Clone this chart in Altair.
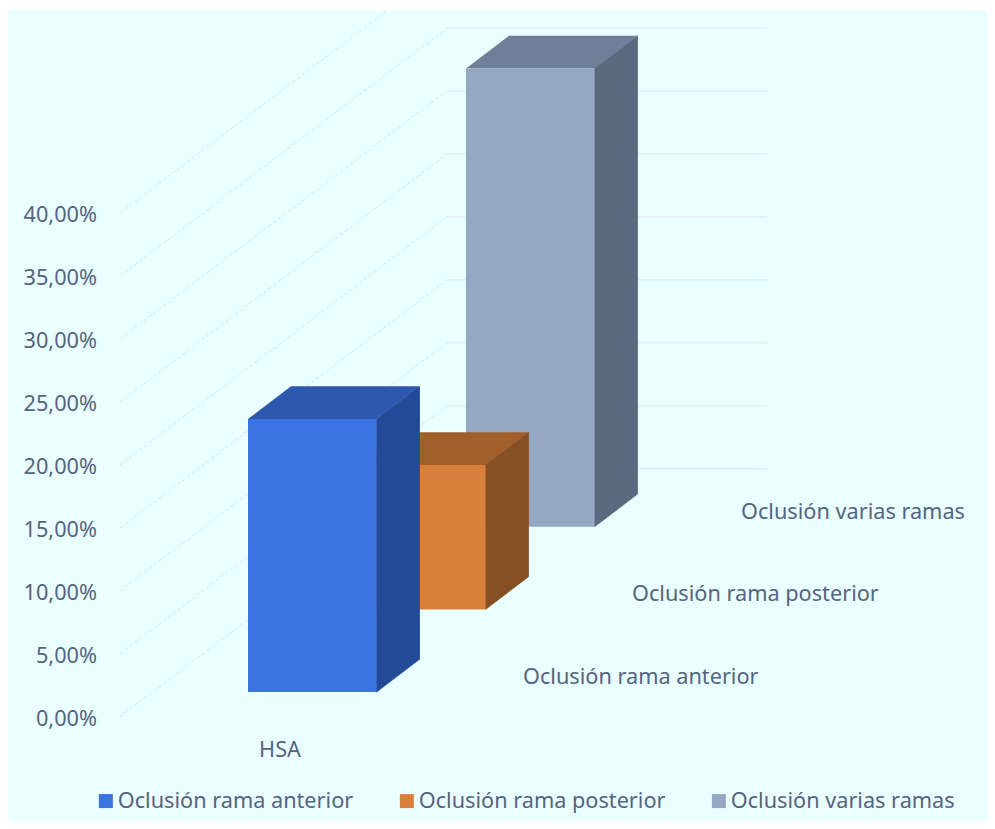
import altair as alt
import pandas as pd

# --- values ---
series = ["Oclusión rama anterior", "Oclusión rama posterior", "Oclusión varias ramas"]
values = [21.68, 11.48, 36.41]
category = "HSA"
grid_levels = [0, 5, 10, 15, 20, 25, 30, 35, 40]
tick_labels = ["0,00%", "5,00%", "10,00%", "15,00%", "20,00%", "25,00%", "30,00%", "35,00%", "40,00%"]

# --- styles ---
front = ["#3b73e3", "#d97e3b", "#95a8c3"]
side = ["#234a96", "#875024", "#5c6a80"]
top = ["#2c58ae", "#a05f2b", "#6f7f99"]
BG = "#eaffff"
TXT = "#56637f"
FONT = "Noto Sans"
FS = 21.7

# --- oblique projection (x in chart units, y in percent units) ---
PX = 12.59            # pixels per percent
Y0 = 716.7            # page y of 0 %
YTOP, YBOT = 10, 821
XL, XR = 8, 987
BAR_X = 248           # front-left corner of the nearest bar
BAR_W = 128.5
BAR_BASE = 1.96       # lift of nearest bar base, percent
STEP_X, STEP_V = 109, 6.56   # shift from one series to the next
DX, DV = 43, 2.6      # bar depth
WALL_X0, WALL_X1, WALL_X2 = 120, 447, 767
WALL_V = 19.7         # lift of the back wall

xs = alt.Scale(domain=[XL, XR], range=[0, XR - XL], nice=False, zero=False)
ys = alt.Scale(domain=[(Y0 - YBOT) / PX, (Y0 - YTOP) / PX], nice=False, zero=False)
X = alt.X("x:Q", scale=xs, axis=None)
Y = alt.Y("y:Q", scale=ys, axis=None)
X2 = alt.X2("x2:Q")
Y2 = alt.Y2("y2:Q")

# grid
diag = pd.DataFrame([{"lv": g, "x": x, "y": g + lift}
                     for g in grid_levels for x, lift in ((WALL_X0, 0), (WALL_X1, WALL_V))])
horiz = pd.DataFrame([{"lv": g, "x": x, "y": g + WALL_V}
                      for g in grid_levels for x in (WALL_X1, WALL_X2)])
layers = [
    alt.Chart(diag).mark_line(color="#d3e2fb", strokeWidth=1, strokeDash=[4, 2], clip=True).encode(
        x=X, y=Y, detail="lv:N"),
    alt.Chart(horiz).mark_line(color="#dfebff", strokeWidth=1.5, clip=True).encode(
        x=X, y=Y, detail="lv:N"),
]

legend = alt.Legend(title=None, orient="none", legendX=87, legendY=780, direction="horizontal",
                    columns=3, columnPadding=42, symbolType="square", symbolSize=196,
                    symbolStrokeWidth=0, labelFont=FONT, labelFontSize=FS, labelColor=TXT,
                    labelOffset=1, padding=0, labelLimit=400)
color = alt.Color("serie:N", scale=alt.Scale(domain=series, range=front), legend=legend)

# bars, back to front
for k in (2, 1, 0):
    x0 = BAR_X + k * STEP_X
    x1 = x0 + BAR_W
    b = BAR_BASE + k * STEP_V
    t = b + values[k]
    layers.append(alt.Chart(pd.DataFrame([{"x": x1, "y": b, "y2": t},
                                          {"x": x1 + DX, "y": b + DV, "y2": t + DV}]))
                  .mark_area(color=side[k], stroke=side[k], strokeWidth=0.8).encode(x=X, y=Y, y2=Y2))
    layers.append(alt.Chart(pd.DataFrame([{"y": t, "x": x0, "x2": x1},
                                          {"y": t + DV, "x": x0 + DX, "x2": x1 + DX}]))
                  .mark_area(color=top[k], orient="horizontal").encode(y=Y, x=X, x2=X2))
    layers.append(alt.Chart(pd.DataFrame([{"serie": series[k], "x": x0, "x2": x1, "y": b, "y2": t}]))
                  .mark_rect().encode(x=X, x2=X2, y=Y, y2=Y2, color=color))

# value labels
layers.append(alt.Chart(pd.DataFrame({"t": tick_labels, "y": grid_levels, "x": [97] * 9}))
              .mark_text(align="right", baseline="middle", font=FONT, fontSize=FS, color=TXT, dy=2)
              .encode(x=X, y=Y, text="t:N"))
# category label
layers.append(alt.Chart(pd.DataFrame({"t": [category], "x": [280], "y": [-2.57]}))
              .mark_text(align="center", baseline="middle", font=FONT, fontSize=FS, color=TXT, dy=1)
              .encode(x=X, y=Y, text="t:N"))
# depth labels
layers.append(alt.Chart(pd.DataFrame({"t": series,
                                      "x": [523 + k * STEP_X for k in range(3)],
                                      "y": [3.23 + k * STEP_V for k in range(3)]}))
              .mark_text(align="left", baseline="middle", font=FONT, fontSize=FS, color=TXT, dy=1)
              .encode(x=X, y=Y, text="t:N"))

chart = (alt.layer(*layers)
         .properties(width=XR - XL, height=YBOT - YTOP,
                     autosize=alt.AutoSizeParams(type="none"),
                     padding={"left": 0, "top": 2, "right": 0, "bottom": 0},
                     background="white")
         .configure_view(fill=BG, strokeWidth=0))

chart.save("out.html", embed_options={"renderer": "svg", "actions": False})
